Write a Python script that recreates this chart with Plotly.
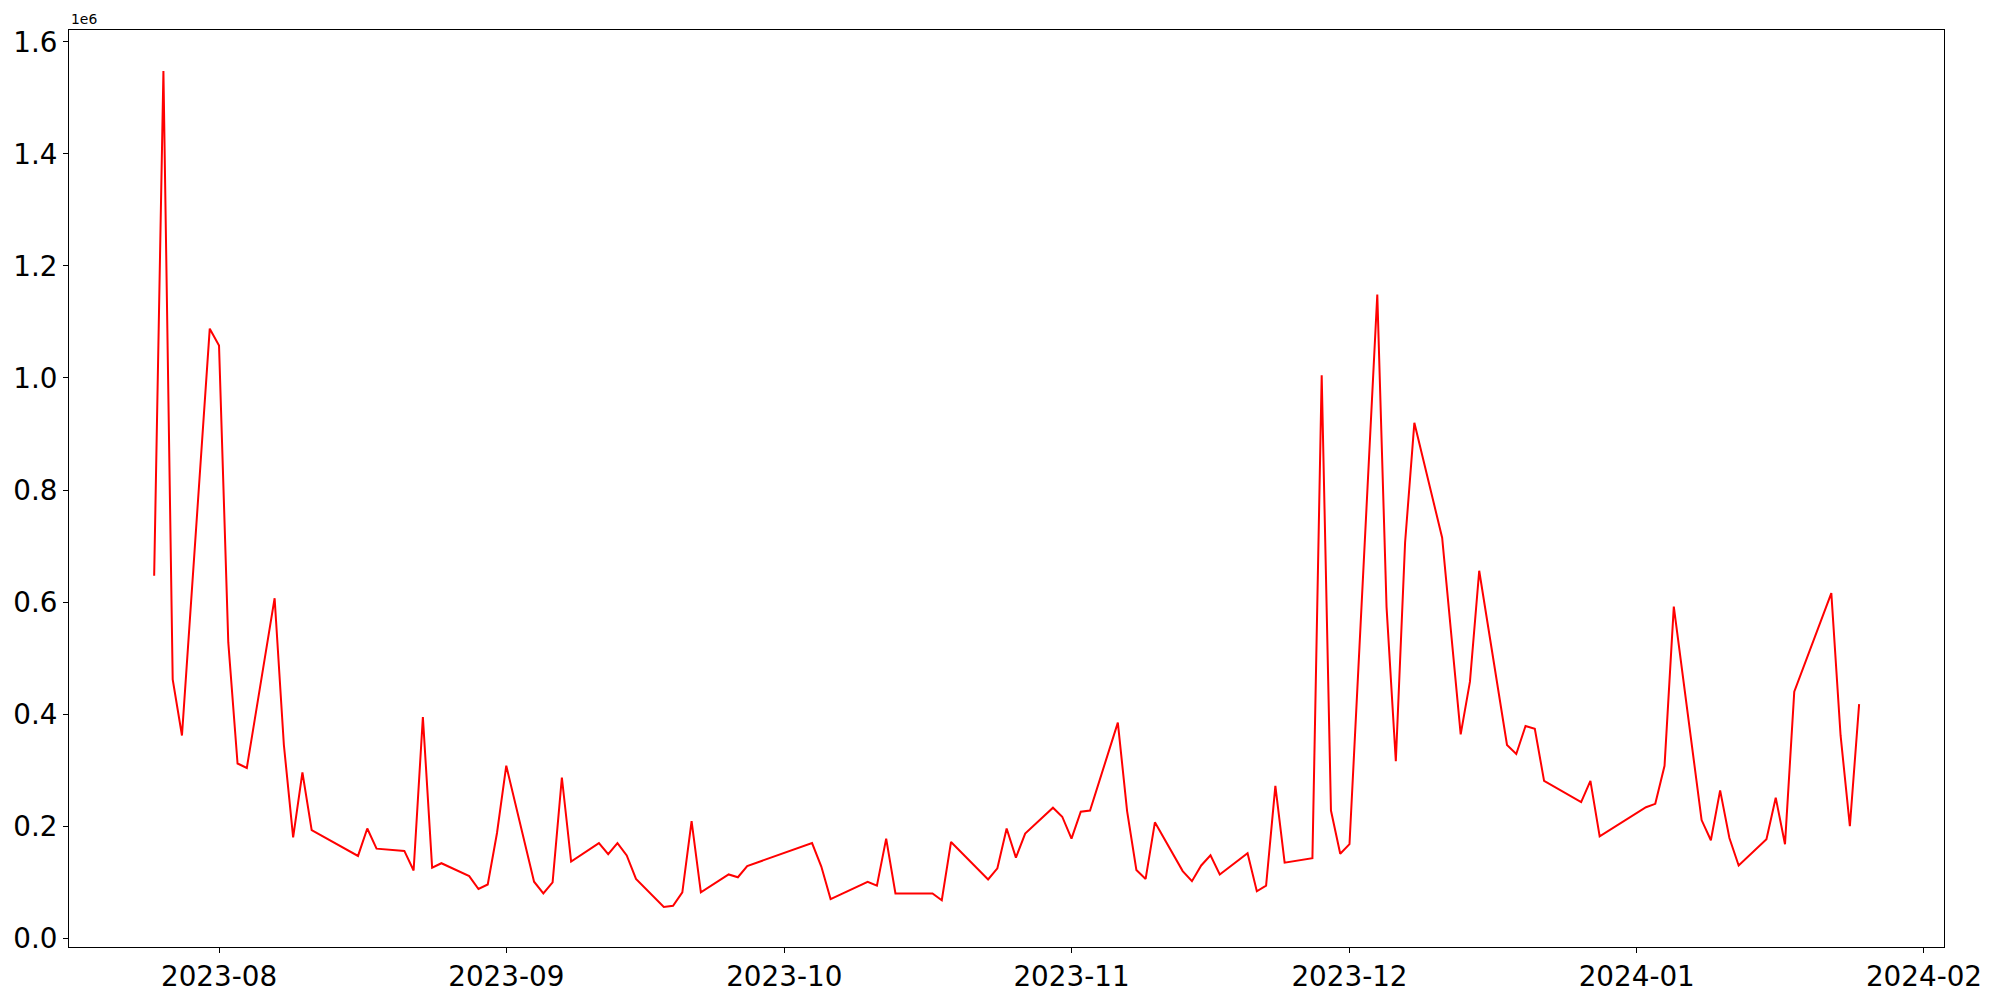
import plotly.graph_objects as go

dates = [
    "2023-07-25", "2023-07-26", "2023-07-27", "2023-07-28", "2023-07-31",
    "2023-08-01", "2023-08-02", "2023-08-03", "2023-08-04", "2023-08-07",
    "2023-08-08", "2023-08-09", "2023-08-10", "2023-08-11", "2023-08-16",
    "2023-08-17", "2023-08-18", "2023-08-21", "2023-08-22", "2023-08-23",
    "2023-08-24", "2023-08-25", "2023-08-28", "2023-08-29", "2023-08-30",
    "2023-08-31", "2023-09-01", "2023-09-04", "2023-09-05", "2023-09-06",
    "2023-09-07", "2023-09-08", "2023-09-11", "2023-09-12", "2023-09-13",
    "2023-09-14", "2023-09-15", "2023-09-18", "2023-09-19", "2023-09-20",
    "2023-09-21", "2023-09-22", "2023-09-25", "2023-09-26", "2023-09-27",
    "2023-10-04", "2023-10-05", "2023-10-06", "2023-10-10", "2023-10-11",
    "2023-10-12", "2023-10-13", "2023-10-17", "2023-10-18", "2023-10-19",
    "2023-10-23", "2023-10-24", "2023-10-25", "2023-10-26", "2023-10-27",
    "2023-10-30", "2023-10-31", "2023-11-01", "2023-11-02", "2023-11-03",
    "2023-11-06", "2023-11-07", "2023-11-08", "2023-11-09", "2023-11-10",
    "2023-11-13", "2023-11-14", "2023-11-15", "2023-11-16", "2023-11-17",
    "2023-11-20", "2023-11-21", "2023-11-22", "2023-11-23", "2023-11-24",
    "2023-11-27", "2023-11-28", "2023-11-29", "2023-11-30", "2023-12-01",
    "2023-12-04", "2023-12-05", "2023-12-06", "2023-12-07", "2023-12-08",
    "2023-12-11", "2023-12-13", "2023-12-14", "2023-12-15", "2023-12-18",
    "2023-12-19", "2023-12-20", "2023-12-21", "2023-12-22", "2023-12-26",
    "2023-12-27", "2023-12-28", "2024-01-02", "2024-01-03", "2024-01-04",
    "2024-01-05", "2024-01-08", "2024-01-09", "2024-01-10", "2024-01-11",
    "2024-01-12", "2024-01-15", "2024-01-16", "2024-01-17", "2024-01-18",
    "2024-01-22", "2024-01-23", "2024-01-24", "2024-01-25",
]

values = [
    647000, 1548000, 462000, 362000, 1088000,
    1058000, 528000, 312000, 304000, 607000,
    345000, 180000, 296000, 193000, 147000,
    196000, 160000, 156000, 121000, 395000,
    126000, 134000, 111000, 88000, 96000,
    188000, 308000, 101000, 80000, 100000,
    287000, 137000, 170000, 150000, 170000,
    148000, 106000, 56000, 58000, 82000,
    209000, 82000, 114000, 109000, 129000,
    170000, 128000, 70000, 101000, 94000,
    178000, 80000, 80000, 68000, 172000,
    105000, 125000, 196000, 144000, 187000,
    233000, 217000, 178000, 226000, 228000,
    385000, 227000, 122000, 106000, 207000,
    120000, 102000, 130000, 148000, 114000,
    152000, 84000, 94000, 272000, 135000,
    143000, 1005000, 228000, 151000, 168000,
    1149000, 591000, 316000, 706000, 920000,
    715000, 364000, 458000, 656000, 345000,
    329000, 379000, 374000, 281000, 243000,
    281000, 182000, 234000, 240000, 308000,
    592000, 211000, 175000, 264000, 179000,
    130000, 177000, 251000, 168000, 440000,
    616000, 362000, 200000, 418000,
]

x_tick_vals = ["2023-08-01", "2023-09-01", "2023-10-01", "2023-11-01",
               "2023-12-01", "2024-01-01", "2024-02-01"]
x_tick_labels = ["2023-08", "2023-09", "2023-10", "2023-11",
                 "2023-12", "2024-01", "2024-02"]
y_tick_vals = [0, 200000, 400000, 600000, 800000, 1000000, 1200000, 1400000, 1600000]
y_tick_labels = ["0.0", "0.2", "0.4", "0.6", "0.8", "1.0", "1.2", "1.4", "1.6"]

fig = go.Figure()
fig.add_trace(go.Scatter(
    x=dates, y=values, mode="lines",
    line=dict(color="#ff0000", width=2),
    showlegend=False,
))

tick_font = dict(family="DejaVu Sans", size=27.8, color="black")

fig.update_layout(
    width=1992, height=992,
    margin=dict(l=61, r=56, t=22, b=53),
    paper_bgcolor="white", plot_bgcolor="white",
    font=dict(family="DejaVu Sans", color="black"),
    xaxis=dict(
        type="date",
        range=["2023-07-15 19:26", "2024-02-03 03:50"],
        tickvals=x_tick_vals, ticktext=x_tick_labels,
        tickfont=tick_font,
        showgrid=False, zeroline=False,
        showline=True, linecolor="black", linewidth=1, mirror=True,
        ticks="outside", ticklen=5, tickwidth=1, tickcolor="black",
        automargin=False,
    ),
    yaxis=dict(
        range=[-15500, 1621000],
        tickvals=y_tick_vals, ticktext=y_tick_labels,
        tickfont=tick_font,
        showgrid=False, zeroline=False,
        showline=True, linecolor="black", linewidth=1, mirror=True,
        ticks="outside", ticklen=5, tickwidth=1, tickcolor="black",
        automargin=False,
    ),
    annotations=[dict(
        text="1e6", xref="paper", yref="paper", x=0, y=1,
        xanchor="left", yanchor="bottom", yshift=1, showarrow=False,
        font=dict(family="DejaVu Sans", size=13.9, color="black"),
    )],
)

fig.write_html("out.html")
